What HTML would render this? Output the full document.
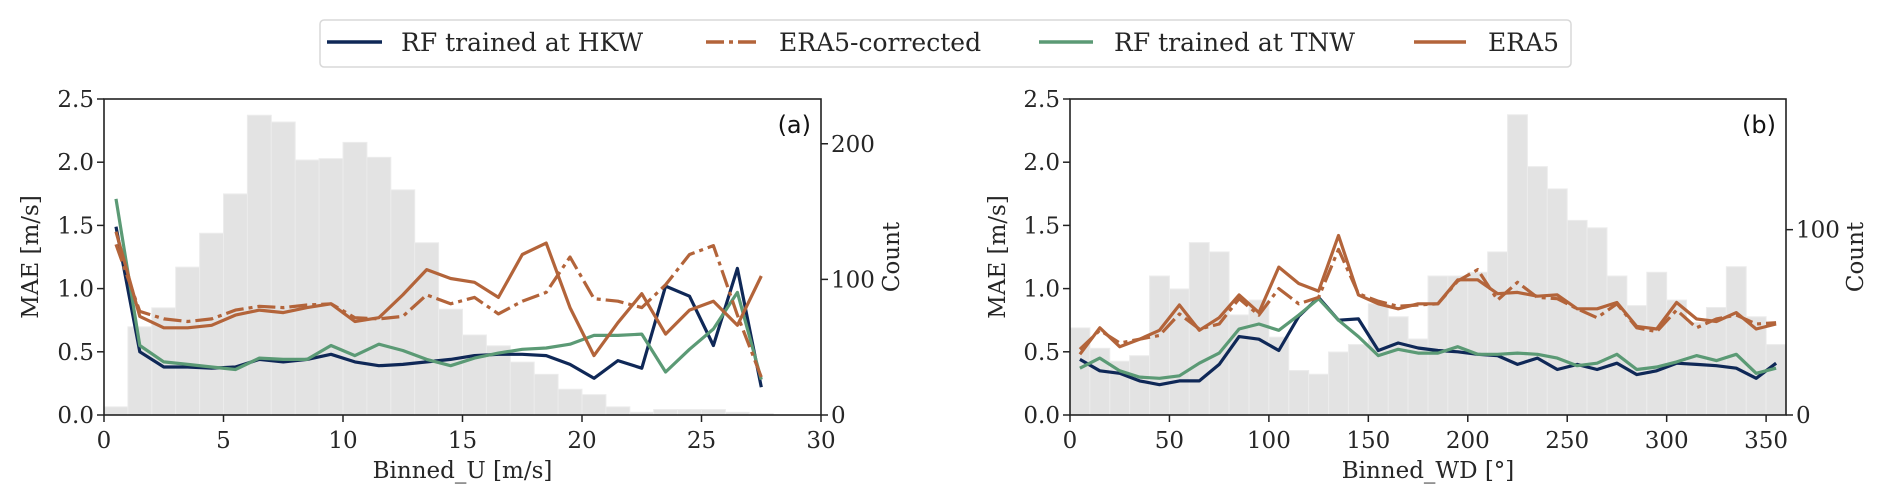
<!DOCTYPE html>
<html><head><meta charset="utf-8">
<style>
html,body{margin:0;padding:0;background:#fff;}
svg{display:block;font-family:"DejaVu Serif","Liberation Serif",serif;}
</style></head>
<body>
<svg id="fig" width="1892" height="504" viewBox="0 0 1892 504" xmlns="http://www.w3.org/2000/svg">
  <g>
    <rect x="320" y="20" width="1251" height="47" rx="4" fill="#fff" stroke="#d8d8d8" stroke-width="1.5"/>
    <g>
      <line x1="327" y1="42" x2="382" y2="42" stroke="#0f2857" stroke-width="3.5"/>
      <text x="401" y="51" font-size="25" fill="#262626">RF trained at HKW</text>
    </g>
    <g>
      <line x1="706" y1="42" x2="757" y2="42" stroke="#b3643a" stroke-width="3.5" stroke-dasharray="18,5,4,5"/>
      <text x="779" y="51" font-size="25" fill="#262626">ERA5-corrected</text>
    </g>
    <g>
      <line x1="1039" y1="42" x2="1093" y2="42" stroke="#5b9a75" stroke-width="3.5"/>
      <text x="1114" y="51" font-size="25" fill="#262626">RF trained at TNW</text>
    </g>
    <g>
      <line x1="1414" y1="42" x2="1466" y2="42" stroke="#b3643a" stroke-width="3.5"/>
      <text x="1488" y="51" font-size="25" fill="#262626">ERA5</text>
    </g>
  </g>
  <g id="pa"></g>
  <g id="pb"></g>
</svg>
<script>
// ---- Panel (a) data ----
const uCountsA = [6,65,79,109,134,163,221,216,188,189,201,190,166,127,78,59,51,39,30,19,15,6,2,4,4,4,2,1];
const uCentersA = [0.5,1.5,2.5,3.5,4.5,5.5,6.5,7.5,8.5,9.5,10.5,11.5,12.5,13.5,14.5,15.5,16.5,17.5,18.5,19.5,20.5,21.5,22.5,23.5,24.5,25.5,26.5,27.5];
const hkwA = [1.49,0.50,0.38,0.38,0.37,0.38,0.44,0.42,0.44,0.48,0.42,0.39,0.40,0.42,0.44,0.47,0.48,0.48,0.47,0.40,0.29,0.43,0.37,1.02,0.94,0.55,1.16,0.22];
const tnwA = [1.71,0.55,0.42,0.40,0.38,0.36,0.45,0.44,0.44,0.55,0.47,0.56,0.51,0.44,0.39,0.45,0.49,0.52,0.53,0.56,0.63,0.63,0.64,0.34,0.52,0.68,0.97,0.28];
const era5A = [1.45,0.78,0.69,0.69,0.71,0.79,0.83,0.81,0.85,0.88,0.74,0.77,0.95,1.15,1.08,1.05,0.93,1.27,1.36,0.85,0.47,0.73,0.96,0.64,0.83,0.90,0.71,1.10];
const era5corrA = [1.35,0.82,0.76,0.74,0.76,0.83,0.86,0.85,0.87,0.88,0.77,0.76,0.78,0.95,0.88,0.93,0.80,0.90,0.97,1.25,0.92,0.90,0.85,1.03,1.27,1.34,0.79,0.30];
const xTicksA = [0,5,10,15,20,25,30];
const countTicksA = [0,100,200];
// ---- Panel (b) data ----
const wdCountsB = [47,36,29,32,75,68,93,88,54,62,42,24,22,34,38,60,53,41,75,75,77,88,162,134,122,105,101,75,59,77,62,50,58,80,53,38];
const wdCentersB = [5,15,25,35,45,55,65,75,85,95,105,115,125,135,145,155,165,175,185,195,205,215,225,235,245,255,265,275,285,295,305,315,325,335,345,355];
const hkwB = [0.44,0.35,0.33,0.27,0.24,0.27,0.27,0.40,0.62,0.60,0.51,0.78,0.93,0.75,0.76,0.51,0.57,0.53,0.51,0.50,0.48,0.47,0.40,0.45,0.36,0.40,0.36,0.41,0.32,0.35,0.41,0.40,0.39,0.37,0.29,0.41];
const tnwB = [0.37,0.45,0.35,0.30,0.29,0.31,0.41,0.49,0.68,0.72,0.67,0.79,0.92,0.75,0.62,0.47,0.52,0.49,0.49,0.54,0.48,0.48,0.49,0.48,0.45,0.39,0.41,0.48,0.36,0.38,0.42,0.47,0.43,0.48,0.33,0.37];
const era5B = [0.48,0.69,0.54,0.60,0.67,0.87,0.67,0.77,0.95,0.81,1.17,1.04,0.98,1.42,0.95,0.88,0.84,0.88,0.88,1.07,1.07,0.96,0.97,0.94,0.95,0.84,0.84,0.89,0.70,0.68,0.89,0.76,0.74,0.81,0.68,0.72];
const era5corrB = [0.52,0.67,0.57,0.60,0.63,0.80,0.68,0.72,0.92,0.79,1.00,0.88,0.93,1.31,0.96,0.90,0.86,0.87,0.88,1.06,1.15,0.91,1.05,0.93,0.92,0.84,0.77,0.88,0.69,0.66,0.83,0.69,0.76,0.79,0.72,0.73];
const xTicksB = [0,50,100,150,200,250,300,350];
const countTicksB = [0,100];
const maeTicks = [0.0,0.5,1.0,1.5,2.0,2.5];

const NS="http://www.w3.org/2000/svg";
function mk(parent,tag,attrs,txt){const e=document.createElementNS(NS,tag);for(const k in attrs)e.setAttribute(k,attrs[k]);if(txt!==undefined)e.textContent=txt;parent.appendChild(e);return e;}

function panel(g,cfg){
  const L=cfg.L,R=cfg.R,T=99,B=415,FS=23;
  const sx=v=>L+(v-cfg.xmin)/(cfg.xmax-cfg.xmin)*(R-L);
  const sy=v=>B-v/2.5*(B-T);
  const sc=v=>B-v/cfg.cmax*(B-T);
  const bars=mk(g,'g',{});
  
  
  cfg.counts.forEach((c,i)=>{
    const x0=sx(cfg.centers[i]-cfg.bw/2),x1=sx(cfg.centers[i]+cfg.bw/2);
    const r=mk(bars,'rect',{x:x0,y:sc(c),width:x1-x0,height:B-sc(c),fill:'#e3e3e3',stroke:'#ececec','stroke-width':1});
    
    
  });
  const series=[[cfg.hkw,'#0f2857','','hkw-line'],[cfg.tnw,'#5b9a75','','tnw-line'],[cfg.era5,'#b3643a','','era5-line'],[cfg.corr,'#b3643a','18,5,4,5','era5-corrected-line']];
  series.forEach(s=>{
    const d=s[0].map((v,i)=>(i?'L':'M')+sx(cfg.centers[i]).toFixed(1)+','+sy(v).toFixed(1)).join(' ');
    const p=mk(g,'path',{d:d,fill:'none',stroke:s[1],'stroke-width':3.2,'stroke-linejoin':'round'});
    if(s[2])p.setAttribute('stroke-dasharray',s[2]);
    
    
  });
  const fr=mk(g,'rect',{x:L,y:T,width:R-L,height:B-T,fill:'none',stroke:'#222','stroke-width':1.6});
  
  
  maeTicks.forEach(v=>{
    mk(g,'line',{x1:L-7,x2:L,y1:sy(v),y2:sy(v),stroke:'#222','stroke-width':1.5});
    const t=mk(g,'text',{x:L-10,y:sy(v)+8,'font-size':FS,'text-anchor':'end',fill:'#262626'},v.toFixed(1));
    
    
  });
  cfg.xticks.forEach(v=>{
    mk(g,'line',{x1:sx(v),x2:sx(v),y1:B,y2:B+7,stroke:'#222','stroke-width':1.5});
    const t=mk(g,'text',{x:sx(v),y:B+33,'font-size':FS,'text-anchor':'middle',fill:'#262626'},String(v));
    
    
  });
  cfg.cticks.forEach(v=>{
    mk(g,'line',{x1:R,x2:R+7,y1:sc(v),y2:sc(v),stroke:'#222','stroke-width':1.5});
    const t=mk(g,'text',{x:R+10,y:sc(v)+8,'font-size':FS,'text-anchor':'start',fill:'#262626'},String(v));
    
    
  });
  const xl=mk(g,'text',{x:(L+R)/2,y:478,'font-size':FS,'text-anchor':'middle',fill:'#262626'},cfg.xlabel);
  
  
  const yl=mk(g,'text',{x:0,y:0,'font-size':FS,'text-anchor':'middle',fill:'#262626',transform:`translate(${cfg.ylx},${(T+B)/2}) rotate(-90)`},'MAE [m/s]');
  
  
  const cl=mk(g,'text',{x:0,y:0,'font-size':FS,'text-anchor':'middle',fill:'#262626',transform:`translate(${cfg.clx},${(T+B)/2}) rotate(-90)`},'Count');
  
  
  const pl=mk(g,'text',{x:R-10,y:133,'font-size':24,'text-anchor':'end',fill:'#111','font-family':'"DejaVu Sans","Liberation Sans",sans-serif'},cfg.tag);
  
  
}
panel(document.getElementById('pa'),{L:104,R:821,xmin:0,xmax:30,bw:1,cmax:233,counts:uCountsA,centers:uCentersA,hkw:hkwA,tnw:tnwA,era5:era5A,corr:era5corrA,xticks:xTicksA,cticks:countTicksA,xlabel:'Binned_U [m/s]',ylx:38,clx:899,tag:'(a)'});
panel(document.getElementById('pb'),{L:1070,R:1786,xmin:0,xmax:360,bw:10,cmax:170.5,counts:wdCountsB,centers:wdCentersB,hkw:hkwB,tnw:tnwB,era5:era5B,corr:era5corrB,xticks:xTicksB,cticks:countTicksB,xlabel:'Binned_WD [°]',ylx:1005,clx:1863,tag:'(b)'});
</script>
</body></html>
